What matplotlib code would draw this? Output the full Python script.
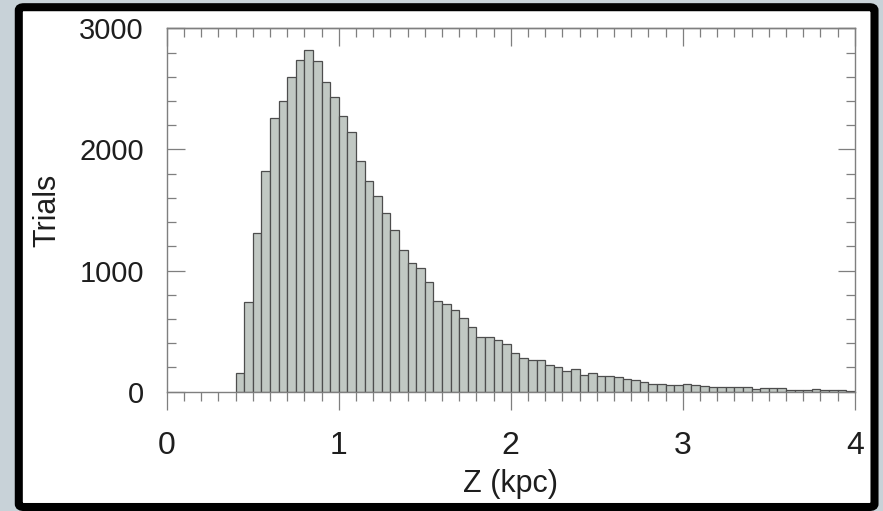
import numpy as np
import matplotlib
matplotlib.use("Agg")
from matplotlib import pyplot as plt
from matplotlib.patches import FancyBboxPatch
from matplotlib.ticker import MultipleLocator

# histogram of Z (kpc), bins of 0.05 starting at 0.40
bin_width = 0.05
first_edge = 0.40
counts = [151, 738, 1308, 1823, 2258, 2402, 2597, 2735, 2823, 2727,
          2559, 2435, 2275, 2143, 1908, 1743, 1619, 1474, 1333, 1168,
          1060, 1021, 903, 749, 726, 677, 606, 536, 449, 449,
          430, 397, 315, 275, 264, 264, 220, 206, 170, 187,
          135, 151, 131, 131, 118, 107, 93, 82, 65, 66,
          53, 53, 62, 53, 47, 42, 41, 41, 37, 36,
          23, 28, 27, 27, 17, 17, 17, 25, 17, 11,
          11, 3]
left_edges = first_edge + bin_width * np.arange(len(counts))

xticks = [0, 1, 2, 3, 4]
yticks = [0, 1000, 2000, 3000]

plt.rcParams['font.family'] = ['Liberation Sans', 'DejaVu Sans']

fig = plt.figure(figsize=(8.83, 5.11), dpi=100)
fig.patch.set_facecolor('#c8d2d8')

# black frame with white inside
frame = FancyBboxPatch((18.8/883, 4.0/511), (874.5-18.8)/883, (503.8-4.0)/511,
                       boxstyle="round,pad=0,rounding_size=0.006",
                       transform=fig.transFigure, facecolor='white',
                       edgecolor='black', linewidth=5.8, zorder=-5)
fig.patches.append(frame)

ax = fig.add_axes([166.7/883, 119.4/511, 688.0/883, 363.3/511])
ax.set_zorder(2)
ax.set_facecolor('white')

ax.bar(left_edges, counts, width=bin_width, align='edge',
       color='#c1c8c3', edgecolor='#4d4d4d', linewidth=0.9, zorder=2)

ax.set_xlim(0, 4)
ax.set_ylim(0, 3000)
ax.set_xticks(xticks)
ax.set_yticks(yticks)
ax.xaxis.set_minor_locator(MultipleLocator(0.1))
ax.yaxis.set_minor_locator(MultipleLocator(200))

gray = '#7f7f7f'
txt = '#1e1e1e'
for s in ax.spines.values():
    s.set_color(gray)
    s.set_linewidth(1.0)

ax.tick_params(axis='x', which='both', direction='out', bottom=True, top=False,
               color=gray, width=0.9, labelsize=23, pad=16, labelcolor=txt)
ax.tick_params(axis='x', which='major', length=12.6)
ax.tick_params(axis='x', which='minor', length=6.3)
ax.tick_params(axis='y', which='both', direction='in', left=True, right=True,
               color=gray, width=0.9, labelsize=21, pad=16.5, labelcolor=txt)
ax.tick_params(axis='y', which='major', length=12.6)
ax.tick_params(axis='y', which='minor', length=6.3)

top = ax.secondary_xaxis('top')
top.set_xticks(xticks)
top.xaxis.set_minor_locator(MultipleLocator(0.1))
top.tick_params(which='both', direction='in', color=gray, width=0.9,
                labeltop=False)
top.tick_params(which='major', length=12.6)
top.tick_params(which='minor', length=6.3)
top.spines['top'].set_color(gray)
top.spines['top'].set_linewidth(1.0)

ax.set_xlabel('Z (kpc)', fontsize=22, color=txt)
ax.xaxis.set_label_coords(0.5, -0.214)
ax.set_ylabel('Trials', fontsize=22, color=txt)
ax.yaxis.label.set_va('center')
ax.yaxis.set_label_coords((47 - 166.7) / 688.0, 0.5)

plt.savefig("out.png", dpi=100, facecolor=fig.get_facecolor())
